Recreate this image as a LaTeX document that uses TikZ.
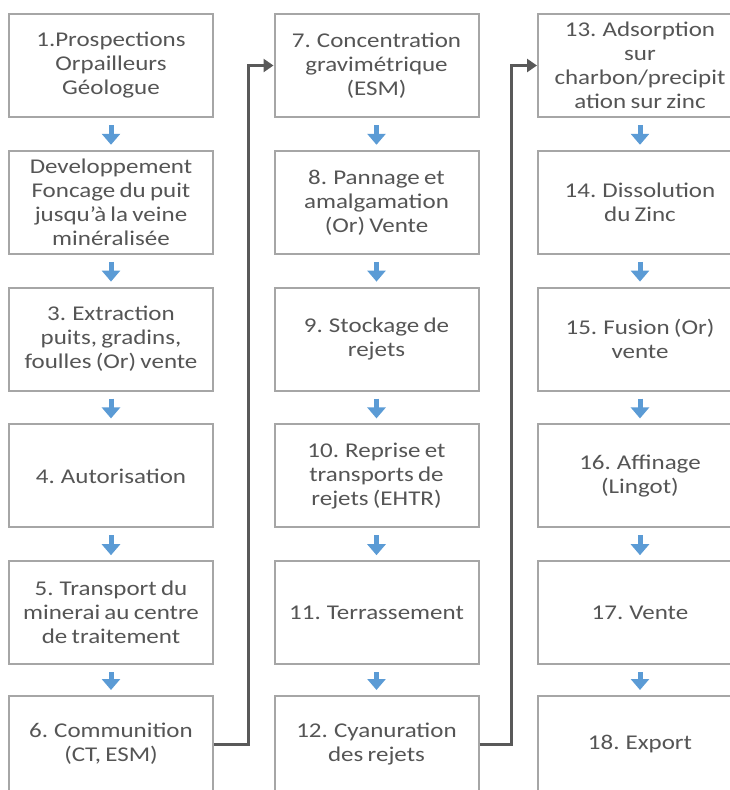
\documentclass[tikz,border=0pt]{standalone}
\usepackage{fontspec}
\setmainfont[FakeStretch=1.19,WordSpace=0.75]{Carlito}
\usetikzlibrary{arrows.meta}
\definecolor{txt}{HTML}{555555}
\definecolor{brd}{HTML}{A6A6A6}
\definecolor{blu}{HTML}{5B9BD5}
\definecolor{con}{HTML}{595959}
\begin{document}
\begin{tikzpicture}[x=1pt,y=-1pt,
  box/.style={draw=brd, line width=2pt, fill=white, minimum width=204pt, minimum height=103pt,
    inner sep=0pt, align=center, text=txt, font=\fontsize{21}{24}\selectfont},
  lastbox/.style={box, minimum height=96pt},
  flow/.style={draw=blu, line width=5pt, -{Triangle[width=18pt,length=11pt]}},
  link/.style={draw=con, line width=3pt, -{Triangle[width=13pt,length=10pt]}}]
\useasboundingbox (0,0) rectangle (730,790);
\begin{scope}
\clip (0,0) rectangle (730,790);
% column 1
\node[box] (b1) at (111,65.5) {1.Prospections\\Orpailleurs\\Géologue};
\node[box] (b2) at (111,202.3) {Developpement\\Foncage du puit\\jusqu’à la veine\\minéralisée};
\node[box] (b3) at (111,339.1) {3. Extraction\\puits, gradins,\\foulles (Or) vente};
\node[box] (b4) at (111,475.9) {4. Autorisation};
\node[box] (b5) at (111,612.7) {5. Transport du\\minerai au centre\\de traitement};
\node[lastbox] (b6) at (111,744) {6. Communition\\(CT, ESM)};
% column 2
\node[box] (b7) at (376.5,65.5) {7. Concentration\\gravimétrique\\(ESM)};
\node[box] (b8) at (376.5,202.3) {8. Pannage et\\amalgamation\\(Or) Vente};
\node[box] (b9) at (376.5,339.1) {9. Stockage de\\rejets};
\node[box] (b10) at (376.5,475.9) {10. Reprise et\\transports de\\rejets (EHTR)};
\node[box] (b11) at (376.5,612.7) {11. Terrassement};
\node[lastbox] (b12) at (376.5,744) {12. Cyanuration\\des rejets};
% column 3
\node[box] (b13) at (640,65.5) {13. Adsorption\\sur\\charbon/precipit\\ation sur zinc};
\node[box] (b14) at (640,202.3) {14. Dissolution\\du Zinc};
\node[box] (b15) at (640,339.1) {15. Fusion (Or)\\vente};
\node[box] (b16) at (640,475.9) {16. Affinage\\(Lingot)};
\node[box] (b17) at (640,612.7) {17. Vente};
\node[lastbox] (b18) at (640,744) {18. Export};
\end{scope}
% blue flow arrows
\foreach \a/\b in {b1/b2,b2/b3,b3/b4,b4/b5,b5/b6,b7/b8,b8/b9,b9/b10,b10/b11,b11/b12,b13/b14,b14/b15,b15/b16,b16/b17,b17/b18}
  \draw[flow] ([yshift=-7pt]\a.south) -- ([yshift=5pt]\b.north);
% gray connectors between columns
\draw[link] (b6.east) -- ++(34,0) |- (b7.west);
\draw[link] (b12.east) -- ++(32,0) |- (b13.west);
\end{tikzpicture}
\end{document}
